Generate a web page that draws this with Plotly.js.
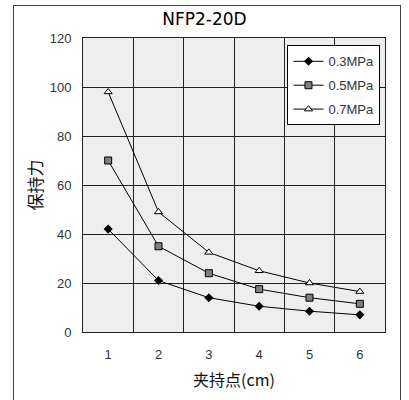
<!DOCTYPE html>
<html><head><meta charset="utf-8">
<script src="https://cdn.plot.ly/plotly-3.0.1.min.js"></script>
<style>
html,body{margin:0;padding:0;background:#fff;}
#wrap{position:relative;width:409px;height:400px;}
#frame{position:absolute;left:13px;top:5px;width:388px;height:400px;border:1px solid #444;box-sizing:border-box;pointer-events:none;z-index:5;}
#chart{position:absolute;left:0;top:0;width:409px;height:400px;}
</style></head>
<body><div id="wrap"><div id="chart"></div><div id="frame"></div></div>
<script>
const clampPoints = [1, 2, 3, 4, 5, 6];
const tickLabels = ['1', '2', '3', '4', '5', '6'];
const force03 = [42, 21, 14, 10.5, 8.5, 7];
const force05 = [70, 35, 24, 17.5, 14, 11.5];
const force07 = [98, 49, 32.5, 25, 20, 16.5];
const seriesNames = ['0.3MPa', '0.5MPa', '0.7MPa'];

const traces = [
  {x: clampPoints, y: force03, name: seriesNames[0], legendgroup: 'a', mode: 'lines+markers',
   line: {color: '#000', width: 1}, marker: {symbol: 'diamond', size: 7, color: '#000'}},
  {x: clampPoints, y: force05, name: seriesNames[1], legendgroup: 'b', mode: 'lines+markers',
   line: {color: '#000', width: 1}, marker: {symbol: 'square', size: 7, color: '#808080', line: {color: '#000', width: 1}}},
  {x: clampPoints, y: force07, name: seriesNames[2], legendgroup: 'c', mode: 'lines+markers',
   line: {color: '#000', width: 1}, marker: {symbol: 'triangle-up', size: 7, color: '#fff', line: {color: '#000', width: 1}}}
];

const layout = {
  width: 409, height: 400,
  margin: {l: 83, r: 24, t: 38, b: 68},
  paper_bgcolor: 'rgba(0,0,0,0)',
  plot_bgcolor: '#eeeeee',
  font: {family: "'Liberation Sans', Arial, sans-serif", size: 13, color: '#333'},
  title: {text: 'NFP2-20D', x: 0.5, xanchor: 'center', y: 0.952, yanchor: 'middle',
          font: {family: "'DejaVu Sans', sans-serif", size: 17, color: '#000'}},
  xaxis: {range: [0.5, 6.5], tickvals: clampPoints, ticktext: tickLabels,
          showgrid: false, zeroline: false, showline: true, linecolor: '#222', linewidth: 1, mirror: true,
          ticks: '', ticklen: 0, ticklabelstandoff: 10,
          minor: {tick0: 0.5, dtick: 1, showgrid: true, gridcolor: '#222', gridwidth: 1, ticks: ''},
          tickfont: {size: 13, color: '#333'}, fixedrange: true,
          title: {text: '夹持点(cm)', standoff: 14, font: {family: "'Noto Sans CJK SC', sans-serif", size: 16, color: '#111'}}},
  yaxis: {range: [0, 120], dtick: 20, showgrid: true, gridcolor: '#222', gridwidth: 1,
          zeroline: false, showline: true, linecolor: '#222', linewidth: 1, mirror: true,
          ticks: '', ticklabelstandoff: 8, tickfont: {size: 13, color: '#333'}, fixedrange: true,
          title: {text: '保持力', standoff: 2, font: {family: "'Noto Sans CJK SC', sans-serif", size: 17, color: '#111'}}},
  legend: {x: 0.985, xanchor: 'right', y: 0.975, yanchor: 'top', bgcolor: '#fff',
           bordercolor: '#000', borderwidth: 1, font: {size: 13, color: '#333'},
           traceorder: 'grouped', itemwidth: 30, tracegroupgap: 4},
  showlegend: true
};
Plotly.newPlot('chart', traces, layout, {displayModeBar: false, staticPlot: true});
</script></body></html>
